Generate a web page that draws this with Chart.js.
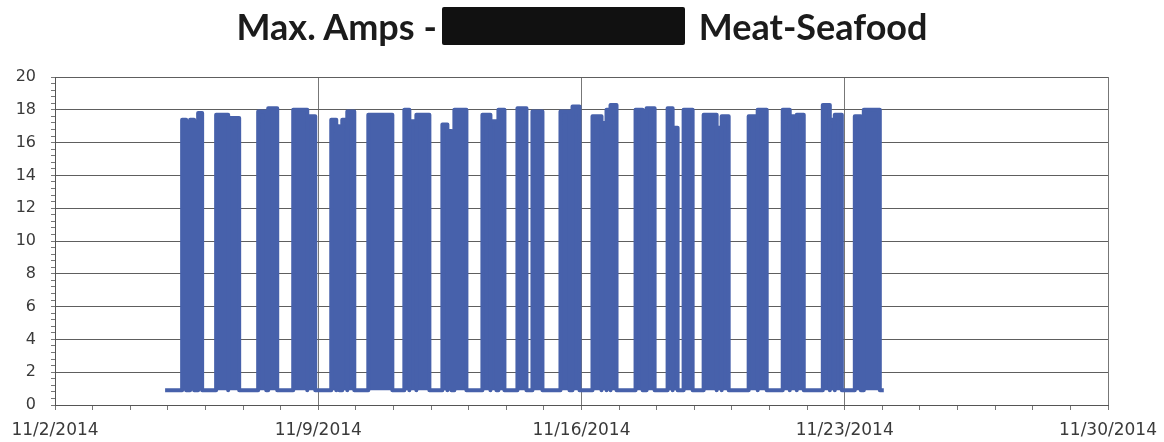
<!DOCTYPE html>
<html>
<head>
<meta charset="UTF-8">
<title>Max. Amps - Meat-Seafood</title>
<script src="https://cdn.jsdelivr.net/npm/chart.js@4.4.1/dist/chart.umd.min.js"></script>
<style>
html, body { margin: 0; padding: 0; background: #fff; }
#wrap { position: relative; width: 1164px; height: 442px; }
#title {
	position: absolute; left: 0; top: 0; width: 1164px; height: 52px;
	display: flex; justify-content: center; align-items: flex-start;
	font-family: Lato, "Open Sans", sans-serif; font-weight: bold; font-size: 36px;
	color: #1b1b1b; line-height: 52px;
}
#title .redact { display: inline-block; width: 243px; height: 38px; background: #111; margin: 7px 14px 0 5px; border-radius: 2px; }
</style>
</head>
<body>
<div id="wrap">
	<div id="title"><span>Max. Amps -</span><span class="redact"></span><span>Meat-Seafood</span></div>
	<canvas id="myChart" width="1164" height="442"></canvas>
</div>
<script>
// logger window and idle draw
var logStart = '2014-11-04T22:16';
var logEnd = '2014-11-24T00:55';
var idleAmps = 0.9;

// each run: compressor on, off, max amps during the run
var runOn = [
	'2014-11-05T09:08', '2014-11-05T14:14', '2014-11-05T19:21',
	'2014-11-06T06:50', '2014-11-06T14:31',
	'2014-11-07T09:40', '2014-11-07T16:04',
	'2014-11-08T08:02', '2014-11-08T16:59',
	'2014-11-09T08:18', '2014-11-09T11:30', '2014-11-09T15:20', '2014-11-09T18:32',
	'2014-11-10T07:57',
	'2014-11-11T06:57', '2014-11-11T10:09', '2014-11-11T14:37',
	'2014-11-12T07:13', '2014-11-12T10:25', '2014-11-12T14:53',
	'2014-11-13T08:46', '2014-11-13T13:53', '2014-11-13T18:59',
	'2014-11-14T07:07', '2014-11-14T16:42',
	'2014-11-15T10:35', '2014-11-15T18:15',
	'2014-11-16T07:01', '2014-11-16T12:46', '2014-11-16T15:58', '2014-11-16T18:31',
	'2014-11-17T10:30', '2014-11-17T17:32',
	'2014-11-18T06:57', '2014-11-18T10:09', '2014-11-18T17:10',
	'2014-11-19T05:57', '2014-11-19T14:15', '2014-11-19T17:27',
	'2014-11-20T10:41', '2014-11-20T16:26',
	'2014-11-21T08:25', '2014-11-21T12:53', '2014-11-21T17:22',
	'2014-11-22T10:00', '2014-11-22T14:28', '2014-11-22T17:38',
	'2014-11-23T06:25', '2014-11-23T12:10'
];
var runOff = [
	'2014-11-05T11:41', '2014-11-05T16:47', '2014-11-05T21:54',
	'2014-11-06T14:31', '2014-11-06T21:32',
	'2014-11-07T14:48', '2014-11-07T21:49',
	'2014-11-08T16:59', '2014-11-08T22:05',
	'2014-11-09T11:30', '2014-11-09T13:25', '2014-11-09T18:32', '2014-11-09T23:00',
	'2014-11-10T23:17',
	'2014-11-11T10:09', '2014-11-11T14:37', '2014-11-11T22:55',
	'2014-11-12T10:25', '2014-11-12T12:58', '2014-11-12T22:33',
	'2014-11-13T13:53', '2014-11-13T17:43', '2014-11-13T22:49',
	'2014-11-14T12:52', '2014-11-14T23:05',
	'2014-11-15T16:20', '2014-11-15T22:43',
	'2014-11-16T12:46', '2014-11-16T15:58', '2014-11-16T18:31', '2014-11-16T22:21',
	'2014-11-17T14:59', '2014-11-17T22:39',
	'2014-11-18T10:09', '2014-11-18T13:20', '2014-11-18T22:55',
	'2014-11-19T14:15', '2014-11-19T17:27', '2014-11-19T21:55',
	'2014-11-20T16:26', '2014-11-20T22:11',
	'2014-11-21T12:53', '2014-11-21T17:22', '2014-11-21T21:50',
	'2014-11-22T14:28', '2014-11-22T17:38', '2014-11-22T22:08',
	'2014-11-23T10:14', '2014-11-23T22:22'
];
var runMax = [
	17.4, 17.4, 17.8,
	17.7, 17.5,
	17.9, 18.1,
	18.0, 17.6,
	17.4, 17.0, 17.4, 17.9,
	17.7,
	18.0, 17.3, 17.7,
	17.1, 16.7, 18.0,
	17.7, 17.3, 18.0,
	18.1, 17.9,
	17.9, 18.2,
	17.6, 17.2, 18.0, 18.3,
	18.0, 18.1,
	18.1, 16.9, 18.0,
	17.7, 16.9, 17.6,
	17.6, 18.0,
	18.0, 17.6, 17.7,
	18.3, 17.4, 17.7,
	17.6, 18.0
];

// x axis in days from 11/2/2014
var axisStart = '2014-11-02T00:00';
var axisDays = 28;

function toDay(s) {
	return (Date.parse(s + 'Z') - Date.parse(axisStart + 'Z')) / 864e5;
}
function dayLabel(v) {
	var d = new Date(Date.parse(axisStart + 'Z') + v * 864e5);
	return (d.getUTCMonth() + 1) + '/' + d.getUTCDate() + '/' + d.getUTCFullYear();
}

var points = [{x: toDay(logStart), y: idleAmps}];
for (var i = 0; i < runOn.length; i++) {
	points.push({x: toDay(runOn[i]), y: idleAmps});
	points.push({x: toDay(runOn[i]), y: runMax[i]});
	points.push({x: toDay(runOff[i]), y: runMax[i]});
	points.push({x: toDay(runOff[i]), y: idleAmps});
}
points.push({x: toDay(logEnd), y: idleAmps});

var blue = '#4761AB';

var ctx = document.getElementById('myChart').getContext('2d');
var myChart = new Chart(ctx, {
	type: 'line',
	data: {
		datasets: [{
			label: 'Max. Amps',
			data: points,
			borderColor: blue,
			backgroundColor: blue,
			borderWidth: 4,
			borderJoinStyle: 'round',
			pointRadius: 0,
			tension: 0,
			fill: {value: idleAmps}
		}]
	},
	options: {
		responsive: false,
		animation: false,
		layout: {padding: {top: 77, right: 56, left: 0, bottom: 0}},
		plugins: {legend: {display: false}, tooltip: {enabled: false}},
		scales: {
			x: {
				type: 'linear',
				min: 0,
				max: axisDays,
				afterFit: function(s) { s.height = 37; s.paddingLeft = 0; s.paddingRight = 0; },
				border: {display: true, color: '#555', width: 1},
				grid: {
					color: function(c) { return c.tick && c.tick.value % 7 === 0 ? '#777' : 'rgba(0,0,0,0)'; },
					tickColor: '#777',
					tickLength: 5
				},
				ticks: {
					stepSize: 1,
					maxTicksLimit: 40,
					autoSkip: false,
					maxRotation: 0,
					padding: 10,
					color: '#3a3a3a',
					font: {family: '"DejaVu Sans", sans-serif', size: 17},
					callback: function(v) { return v % 7 === 0 ? dayLabel(v) : ''; }
				}
			},
			y: {
				min: 0,
				max: 20,
				afterFit: function(s) { s.width = 55; s.paddingTop = 0; s.paddingBottom = 0; },
				border: {display: true, color: '#555', width: 1},
				grid: {
					color: function(c) {
						var v = c.tick ? c.tick.value : 0;
						return Math.abs(v / 2 - Math.round(v / 2)) < 1e-6 ? '#5e5e5e' : 'rgba(0,0,0,0)';
					},
					tickColor: '#777',
					tickLength: 4
				},
				ticks: {
					stepSize: 0.4,
					maxTicksLimit: 60,
					autoSkip: false,
					padding: 15,
					color: '#3a3a3a',
					font: {family: '"DejaVu Sans", sans-serif', size: 16},
					callback: function(v) {
						return Math.abs(v / 2 - Math.round(v / 2)) < 1e-6 ? Math.round(v) : '';
					}
				}
			}
		}
	}
});
</script>
</body>
</html>
